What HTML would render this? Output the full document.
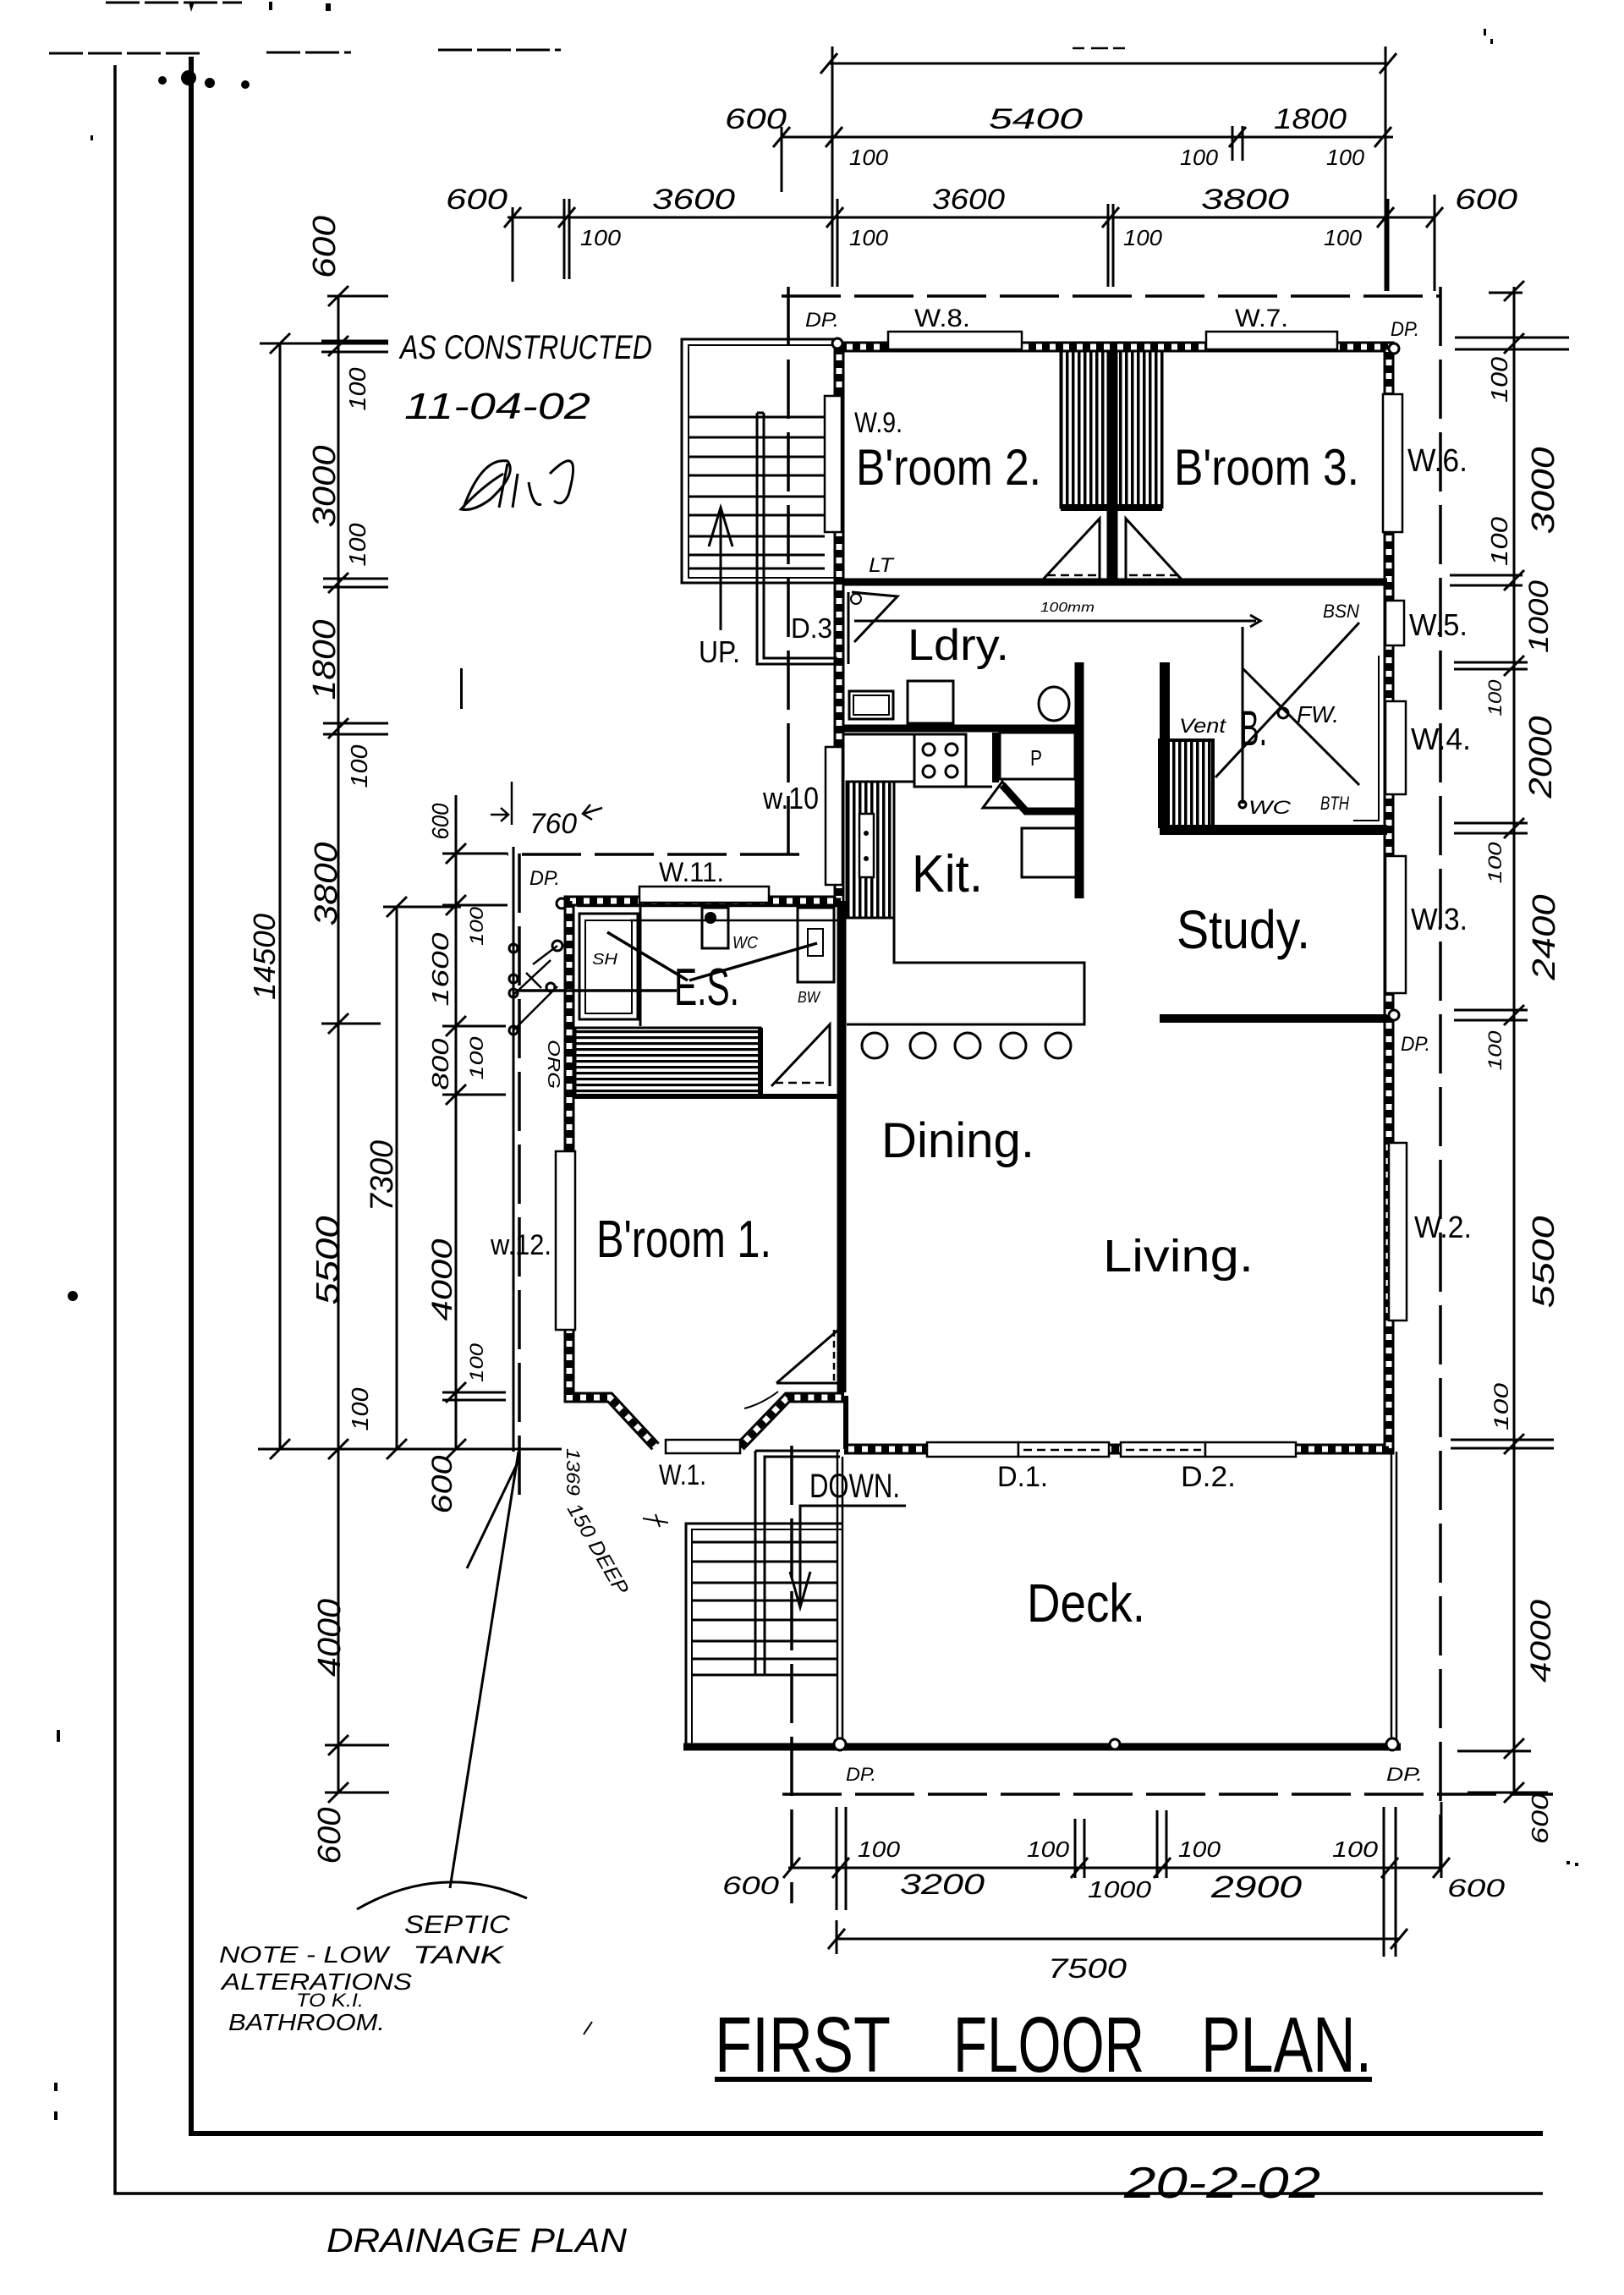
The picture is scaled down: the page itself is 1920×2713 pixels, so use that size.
<!DOCTYPE html>
<html><head><meta charset="utf-8"><style>
html,body{margin:0;padding:0;background:#fff}
svg{display:block}
.h{font-family:"Liberation Sans",sans-serif;font-style:italic;fill:#000}
.r{font-family:"Liberation Sans",sans-serif;fill:#000}
</style></head><body>
<svg xmlns="http://www.w3.org/2000/svg" width="1920" height="2713" viewBox="0 0 1920 2713">
<defs>
<pattern id="vh" width="7" height="10" patternUnits="userSpaceOnUse"><rect width="3.5" height="10" fill="#000"/></pattern>
<pattern id="hh" width="10" height="7" patternUnits="userSpaceOnUse"><rect width="10" height="3.2" fill="#000"/></pattern>
<path id="ew" d="M992 410 H1642 V1713 H998 M992 410 V1065 M994 1065 H673 V1652 H721 L775 1710 M875 1710 L931 1652 H998"/>
</defs>
<rect width="1920" height="2713" fill="#fff"/>

<!-- borders -->
<g stroke="#000" fill="none">
<path d="M136 77 V2593 H1824" stroke-width="3.5"/>
<path d="M226 67 V2522 H1824" stroke-width="6"/>
<path d="M58 63 H241 M315 62 H415 M518 59 H663 M125 3 H286" stroke-width="3" stroke-dasharray="40 6"/>
</g>
<g fill="#000">
<circle cx="192" cy="95" r="5"/><circle cx="223" cy="92" r="9"/><circle cx="248" cy="98" r="6"/><circle cx="290" cy="100" r="5"/>
<path d="M223 2 L230 2 L226 14 Z M318 2 h4 v10 h-4z M385 4 h6 v9 h-6z"/>
<circle cx="86" cy="1532" r="6"/><rect x="67" y="2045" width="4" height="14"/><rect x="64" y="2462" width="4" height="10"/><rect x="64" y="2496" width="4" height="10"/>
<rect x="1754" y="34" width="3" height="8"/><rect x="1762" y="46" width="3" height="6"/><rect x="1852" y="2200" width="4" height="4"/><rect x="1862" y="2202" width="4" height="4"/>
<rect x="107" y="160" width="3" height="6"/><rect x="544" y="790" width="3" height="48"/>
</g>

<!-- dimension lines -->
<g stroke="#000" fill="none" stroke-width="3">
<!-- top -->
<path d="M980 75 H1641 M984 55 V339 M1638 55 V344 M970 87 L990 63 M1631 87 L1651 63"/>
<path d="M1268 57 H1282 M1290 57 H1310 M1316 57 H1330" stroke-width="2.5"/>
<path d="M924 162 H1647 M924 150 V227 M1457 149 V190 M1469 149 V190 M914 174 L934 150 M976 174 L996 150 M1453 174 L1473 150 M1625 174 L1645 150"/>
<path d="M600 257 H1696 M606 245 V333 M667 235 V330 M673 235 V330 M990 235 V339 M1310 241 V339 M1316 241 V339 M1696 230 V344 M1641 235 V344"/>
<path d="M596 269 L616 245 M660 269 L680 245 M977 269 L997 245 M1303 269 L1323 245 M1628 269 L1648 245 M1686 269 L1706 245"/>
<!-- right -->
<path d="M1790 339 V2119"/>
<path d="M1760 346 H1800 M1720 399 H1855 M1720 413 H1855 M1714 680 H1800 M1714 692 H1800 M1719 783 H1806 M1719 791 H1806 M1719 973 H1806 M1719 985 H1806 M1719 1194 H1806 M1719 1206 H1806 M1715 1702 H1837 M1715 1712 H1837 M1723 2070 H1810 M1735 2119 H1830"/>
<path d="M1778 356 L1802 332 M1778 418 L1802 394 M1778 698 L1802 674 M1778 799 L1802 775 M1778 991 L1802 967 M1778 1212 L1802 1188 M1778 1719 L1802 1695 M1778 2079 L1802 2055 M1778 2131 L1802 2107"/>
<!-- left -->
<path d="M331 406 V1713 M307 406 H459 M319 418 L343 394 M319 1725 L343 1701"/>
<path d="M400 350 V2119 M387 350 H459 M380 403 H459 M380 416 H459 M382 684 H459 M382 694 H459 M382 855 H459 M382 868 H459 M380 1210 H450 M305 1713 H664 M384 2063 H460 M384 2119 H460"/>
<path d="M388 362 L412 338 M388 421 L412 397 M388 701 L412 677 M388 873 L412 849 M388 1222 L412 1198 M388 1725 L412 1701 M388 2075 L412 2051 M388 2131 L412 2107"/>
<path d="M469 1072 V1713 M453 1072 H545 M457 1084 L481 1060 M457 1725 L481 1701"/>
<path d="M539 940 V1713 M523 1009 H600 M523 1070 H600 M523 1213 H598 M523 1294 H598 M523 1646 H598 M523 1655 H598"/>
<path d="M527 1021 L551 997 M527 1082 L551 1058 M527 1225 L551 1201 M527 1306 L551 1282 M527 1658 L551 1634 M527 1725 L551 1701"/>
<!-- 760 -->
<path d="M605 924 V975 M580 963 H601 M592 955 L601 963 L592 971 M712 955 L690 962 M698 951 L689 962 L700 969" stroke-width="2.5"/>
<!-- bottom -->
<path d="M932 2208 H1704 M989 2136 V2258 M1000 2136 V2258 M1271 2150 V2220 M1282 2150 V2220 M1368 2140 V2220 M1379 2140 V2220 M1636 2136 V2313 M1650 2136 V2313 M1704 2130 V2220"/>
<path d="M926 2220 L946 2196 M984 2220 L1004 2196 M1266 2220 L1286 2196 M1364 2220 L1384 2196 M1633 2220 L1653 2196 M1694 2220 L1714 2196"/>
<path d="M989 2292 H1654 M989 2270 V2310 M979 2304 L999 2280 M1644 2304 L1664 2280"/>
</g>

<!-- setback dashed lines -->
<g stroke="#000" fill="none" stroke-width="3.5" stroke-dasharray="70 16">
<path d="M924 350 H1702"/><path d="M932 339 V1015"/><path d="M945 1010 H600"/><path d="M614 1009 V1780"/>
<path d="M1703 339 V2212"/><path d="M925 2121 H1836"/><path d="M936 1709 V2250"/>
</g>
<g stroke="#000" fill="none" stroke-width="3">
<path d="M607 1001 V1716 M613 1716 L532 2232 M613 1727 L552 1854"/>
<path d="M422 2257 Q521 2200 623 2244"/>
</g>

<!-- exterior walls -->
<use href="#ew" fill="none" stroke="#000" stroke-width="13"/>
<use href="#ew" fill="none" stroke="#fff" stroke-width="7"/>
<use href="#ew" fill="none" stroke="#000" stroke-width="7" stroke-dasharray="9 7"/>

<g stroke="#000" fill="none">
<!-- deck -->
<path d="M990 1716 V2062 M996 1722 V2062 M1645 1716 V2062 M1651 1716 V2062" stroke-width="2.5"/>
<path d="M808 2065 H1656" stroke-width="9"/>
<path d="M1000 1650 V1713" stroke-width="6"/>
<!-- interior walls -->
<path d="M998 688 H1640" stroke-width="9"/>
<path d="M1315 415 V692" stroke-width="13"/>
<path d="M1276 783 V1062" stroke-width="11"/>
<path d="M998 861 H1279" stroke-width="9"/>
<path d="M1177 866 V925" stroke-width="8"/>
<path d="M1185 928 L1213 959 H1271" stroke-width="9"/>
<path d="M1377 783 V981 H1640" stroke-width="12"/>
<path d="M1371 1204 H1640" stroke-width="10"/>
<path d="M995 1065 V1646" stroke-width="11"/>
<path d="M680 1296 H990" stroke-width="6"/>
</g>

<!-- hatched fills -->
<rect x="1254" y="415" width="120" height="185" fill="url(#vh)" stroke="#000" stroke-width="3"/>
<path d="M1254 600 H1374" stroke="#000" stroke-width="8"/>
<path d="M1315 415 V692" stroke="#000" stroke-width="13"/>
<rect x="1371" y="875" width="63" height="102" fill="url(#vh)" stroke="#000" stroke-width="4"/>
<rect x="1001" y="924" width="56" height="161" fill="url(#vh)" stroke="#000" stroke-width="3"/>
<rect x="1016" y="962" width="17" height="75" fill="#fff" stroke="#000" stroke-width="2.5"/>
<circle cx="1024" cy="985" r="3"/><circle cx="1024" cy="1015" r="3"/>
<rect x="680" y="1215" width="219" height="82" fill="url(#hh)" stroke="#000" stroke-width="3"/>
<path d="M899 1215 V1297" stroke="#000" stroke-width="6"/>

<g stroke="#000" fill="none" stroke-width="3">
<!-- upper stairs -->
<path d="M990 401 H806 V689 H990"/>
<path d="M990 408 H814 V683 H990" stroke-width="2"/>
<path d="M814 493 H975 M814 517 H975 M814 540 H975 M814 562 H975 M814 587 H975 M814 609 H975 M814 634 H975 M814 656 H975 M814 672 H975"/>
<path d="M895 488 V785 H990 M903 488 V778 H990 M895 488 H903"/>
<path d="M852 745 V600 M838 646 L852 600 L866 646"/>
<!-- lower stairs -->
<path d="M996 1801 H811 V2069"/>
<path d="M996 1808 H818 V2062" stroke-width="2"/>
<path d="M818 1823 H990 M818 1846 H990 M818 1871 H990 M818 1892 H990 M818 1915 H990 M818 1940 H990 M818 1961 H990 M818 1980 H990"/>
<path d="M893 1715 V1980 H904 V1722 H993 M893 1715 H993"/>
<path d="M1071 1780 H946 V1900 M934 1858 L946 1900 L958 1858"/>
<!-- bedroom doors -->
<path d="M1233 685 L1300 613 V685 M1331 685 V613 L1397 685"/>
<path d="M1238 680 H1296 M1335 680 H1393" stroke-dasharray="10 6" stroke-width="2.5"/>
<!-- laundry -->
<rect x="1004" y="817" width="52" height="33"/><rect x="1009" y="822" width="42" height="23" stroke-width="2"/>
<rect x="1073" y="805" width="54" height="50"/>
<ellipse cx="1246" cy="832" rx="18" ry="20"/>
<path d="M1007 700 L1061 705 L1010 759 M1003 700 V785"/>
<circle cx="1012" cy="708" r="6" stroke-width="2"/>
<!-- pipes / bathroom -->
<path d="M1010 734 H1485 M1478 727 L1490 734 L1478 741 M1469 741 V950"/>
<circle cx="1469" cy="951" r="4"/>
<path d="M1469 790 L1607 928 M1607 736 L1437 919"/>
<circle cx="1517" cy="843" r="6"/>
<path d="M1630 775 V970 H1600" stroke-width="2"/>
<!-- kitchen -->
<path d="M998 868 H1081 M1010 924 H1081 M1142 930 H1173"/>
<rect x="1081" y="868" width="61" height="62"/>
<circle cx="1098" cy="886" r="7"/><circle cx="1125" cy="886" r="7"/><circle cx="1098" cy="912" r="7"/><circle cx="1125" cy="912" r="7"/>
<rect x="1182" y="866" width="89" height="55"/>
<path d="M1162 955 L1185 924 L1208 955 Z"/>
<rect x="1208" y="979" width="64" height="58"/>
<path d="M1057 1085 V1138 H1282 V1211 H1001"/>
<circle cx="1034" cy="1236" r="15"/><circle cx="1091" cy="1236" r="15"/><circle cx="1144" cy="1236" r="15"/><circle cx="1198" cy="1236" r="15"/><circle cx="1251" cy="1236" r="15"/>
<!-- ensuite -->
<path d="M682 1071 H990 M745 1088 H990" stroke-width="2.5"/>
<rect x="685" y="1080" width="69" height="125"/><rect x="692" y="1088" width="55" height="110" stroke-width="2"/>
<path d="M757 1062 V1213"/>
<rect x="830" y="1073" width="31" height="48"/>
<rect x="943" y="1073" width="43" height="88"/><rect x="955" y="1098" width="18" height="32" stroke-width="2"/>
<path d="M718 1102 L813 1159 M815 1159 L966 1115 M611 1171 H800" stroke-width="3.5"/>
<path d="M912 1284 L981 1211 V1284"/>
<path d="M916 1280 H978" stroke-dasharray="10 6" stroke-width="2.5"/>
<path d="M918 1635 L998 1566 M918 1635 H998"/>
<path d="M986 1572 V1635" stroke-dasharray="8 5" stroke-width="2.5"/>
<!-- drain bits -->
<circle cx="607" cy="1121" r="5"/><circle cx="607" cy="1157" r="5"/><circle cx="607" cy="1174" r="5"/><circle cx="607" cy="1218" r="5"/>
<circle cx="659" cy="1118" r="6"/><circle cx="651" cy="1167" r="5"/><circle cx="664" cy="1068" r="6"/>
<path d="M607 1218 L659 1166 M607 1176 L651 1135 M659 1118 L630 1140 M622 1150 L640 1168" stroke-width="2.5"/>
<path d="M920 1645 Q900 1660 880 1665" stroke-width="2"/>
</g>
<circle cx="840" cy="1085" r="7" fill="#000"/>

<!-- windows & doors -->
<g fill="#fff" stroke="#000" stroke-width="2.5">
<rect x="1050" y="392" width="158" height="21"/><rect x="1426" y="392" width="155" height="21"/>
<rect x="975" y="468" width="20" height="161"/><rect x="1635" y="466" width="23" height="163"/>
<rect x="1638" y="710" width="22" height="53"/><rect x="1638" y="829" width="24" height="110"/>
<rect x="1638" y="1012" width="24" height="162"/><rect x="1642" y="1351" width="21" height="210"/>
<rect x="976" y="883" width="20" height="163"/><rect x="756" y="1048" width="153" height="19"/>
<rect x="657" y="1361" width="23" height="211"/><rect x="787" y="1702" width="88" height="16"/>
<rect x="1096" y="1705" width="108" height="17"/><rect x="1204" y="1705" width="107" height="17"/>
<rect x="1325" y="1705" width="100" height="17"/><rect x="1425" y="1705" width="107" height="17"/>
</g>
<path d="M1210 1714 H1305 M1331 1714 H1420" stroke="#000" stroke-width="2.5" stroke-dasharray="10 6"/>
<g fill="#fff" stroke="#000" stroke-width="3">
<circle cx="990" cy="406" r="6"/><circle cx="1648" cy="412" r="6"/><circle cx="1648" cy="1200" r="6"/>
<circle cx="993" cy="2062" r="7"/><circle cx="1318" cy="2062" r="6"/><circle cx="1646" cy="2062" r="7"/>
</g>

<!-- room labels -->
<g class="r">
<text x="1012" y="573" font-size="60" textLength="219" lengthAdjust="spacingAndGlyphs">B'room 2.</text>
<text x="1388" y="573" font-size="60" textLength="219" lengthAdjust="spacingAndGlyphs">B'room 3.</text>
<text x="1073" y="780" font-size="52" textLength="120" lengthAdjust="spacingAndGlyphs">Ldry.</text>
<text x="1078" y="1054" font-size="62" textLength="84" lengthAdjust="spacingAndGlyphs">Kit.</text>
<text x="1391" y="1121" font-size="64" textLength="158" lengthAdjust="spacingAndGlyphs">Study.</text>
<text x="1042" y="1368" font-size="58" textLength="181" lengthAdjust="spacingAndGlyphs">Dining.</text>
<text x="1304" y="1503" font-size="54" textLength="178" lengthAdjust="spacingAndGlyphs">Living.</text>
<text x="705" y="1486" font-size="62" textLength="207" lengthAdjust="spacingAndGlyphs">B'room 1.</text>
<text x="1466" y="881" font-size="58" textLength="32" lengthAdjust="spacingAndGlyphs">B.</text>
<text x="797" y="1188" font-size="62" textLength="77" lengthAdjust="spacingAndGlyphs">E.S.</text>
<text x="1214" y="1917" font-size="64" textLength="140" lengthAdjust="spacingAndGlyphs">Deck.</text>
<text x="845" y="2449" font-size="93" textLength="208" lengthAdjust="spacingAndGlyphs">FIRST</text>
<text x="1127" y="2449" font-size="93" textLength="226" lengthAdjust="spacingAndGlyphs">FLOOR</text>
<text x="1420" y="2449" font-size="93" textLength="202" lengthAdjust="spacingAndGlyphs">PLAN.</text>
<!-- small labels -->
<text x="1081" y="386" font-size="30" textLength="66" lengthAdjust="spacingAndGlyphs">W.8.</text>
<text x="1460" y="386" font-size="30" textLength="63" lengthAdjust="spacingAndGlyphs">W.7.</text>
<text x="1010" y="511" font-size="34" textLength="57" lengthAdjust="spacingAndGlyphs">W.9.</text>
<text x="935" y="754" font-size="33" textLength="49" lengthAdjust="spacingAndGlyphs">D.3</text>
<text x="826" y="783" font-size="36" textLength="49" lengthAdjust="spacingAndGlyphs">UP.</text>
<text x="1664" y="557" font-size="38" textLength="71" lengthAdjust="spacingAndGlyphs">W.6.</text>
<text x="1666" y="751" font-size="36" textLength="69" lengthAdjust="spacingAndGlyphs">W.5.</text>
<text x="1668" y="886" font-size="36" textLength="71" lengthAdjust="spacingAndGlyphs">W.4.</text>
<text x="1668" y="1099" font-size="36" textLength="67" lengthAdjust="spacingAndGlyphs">W.3.</text>
<text x="1672" y="1463" font-size="36" textLength="68" lengthAdjust="spacingAndGlyphs">W.2.</text>
<text x="779" y="1042" font-size="32" textLength="77" lengthAdjust="spacingAndGlyphs">W.11.</text>
<text x="902" y="956" font-size="36" textLength="66" lengthAdjust="spacingAndGlyphs">w.10</text>
<text x="580" y="1483" font-size="34" textLength="72" lengthAdjust="spacingAndGlyphs">w.12.</text>
<text x="779" y="1755" font-size="34" textLength="56" lengthAdjust="spacingAndGlyphs">W.1.</text>
<text x="1179" y="1757" font-size="34" textLength="60" lengthAdjust="spacingAndGlyphs">D.1.</text>
<text x="1396" y="1757" font-size="34" textLength="65" lengthAdjust="spacingAndGlyphs">D.2.</text>
<text x="957" y="1770" font-size="40" textLength="107" lengthAdjust="spacingAndGlyphs">DOWN.</text>
<text x="1218" y="905" font-size="26" textLength="14" lengthAdjust="spacingAndGlyphs">P</text>
</g>

<!-- handwritten / dimension numbers -->
<g class="h">
<text x="952" y="386" font-size="24" textLength="40" lengthAdjust="spacingAndGlyphs">DP.</text>
<text x="1644" y="397" font-size="24" textLength="34" lengthAdjust="spacingAndGlyphs">DP.</text>
<text x="1656" y="1242" font-size="24" textLength="35" lengthAdjust="spacingAndGlyphs">DP.</text>
<text x="626" y="1046" font-size="24" textLength="36" lengthAdjust="spacingAndGlyphs">DP.</text>
<text x="1000" y="2105" font-size="22" textLength="36" lengthAdjust="spacingAndGlyphs">DP.</text>
<text x="1639" y="2105" font-size="22" textLength="43" lengthAdjust="spacingAndGlyphs">DP.</text>
<text x="1027" y="676" font-size="24" textLength="29" lengthAdjust="spacingAndGlyphs">LT</text>
<text x="1230" y="723" font-size="16" textLength="64" lengthAdjust="spacingAndGlyphs">100mm</text>
<text x="1394" y="866" font-size="24" textLength="55" lengthAdjust="spacingAndGlyphs">Vent</text>
<text x="1564" y="730" font-size="22" textLength="43" lengthAdjust="spacingAndGlyphs">BSN</text>
<text x="1533" y="854" font-size="28" textLength="50" lengthAdjust="spacingAndGlyphs">FW.</text>
<text x="1476" y="962" font-size="22" textLength="50" lengthAdjust="spacingAndGlyphs">WC</text>
<text x="1561" y="957" font-size="22" textLength="34" lengthAdjust="spacingAndGlyphs">BTH</text>
<text x="866" y="1121" font-size="20" textLength="30" lengthAdjust="spacingAndGlyphs">WC</text>
<text x="700" y="1140" font-size="18" textLength="30" lengthAdjust="spacingAndGlyphs">SH</text>
<text x="943" y="1185" font-size="18" textLength="26" lengthAdjust="spacingAndGlyphs">BW</text>
<text transform="translate(648,1258) rotate(90)" text-anchor="middle" font-size="20" textLength="58" lengthAdjust="spacingAndGlyphs">ORG</text>
<text transform="translate(670,1740) rotate(90)" text-anchor="middle" font-size="22" textLength="56" lengthAdjust="spacingAndGlyphs">1369</text>
<text transform="translate(700,1835) rotate(60)" text-anchor="middle" font-size="24" textLength="120" lengthAdjust="spacingAndGlyphs">150 DEEP</text>
<text x="626" y="985" font-size="34" textLength="56" lengthAdjust="spacingAndGlyphs">760</text>
<text x="473" y="424" font-size="40" textLength="298" lengthAdjust="spacingAndGlyphs">AS CONSTRUCTED</text>
<text x="478" y="495" font-size="44" textLength="220" lengthAdjust="spacingAndGlyphs">11-04-02</text>
<text x="478" y="2285" font-size="30" textLength="125" lengthAdjust="spacingAndGlyphs">SEPTIC</text>
<text x="488" y="2321" font-size="30" textLength="107" lengthAdjust="spacingAndGlyphs">TANK</text>
<text x="259" y="2320" font-size="28" textLength="200" lengthAdjust="spacingAndGlyphs">NOTE - LOW</text>
<text x="262" y="2352" font-size="28" textLength="225" lengthAdjust="spacingAndGlyphs">ALTERATIONS</text>
<text x="350" y="2372" font-size="22" textLength="80" lengthAdjust="spacingAndGlyphs">TO K.I.</text>
<text x="270" y="2400" font-size="28" textLength="185" lengthAdjust="spacingAndGlyphs">BATHROOM.</text>
<text x="1329" y="2598" font-size="52" textLength="232" lengthAdjust="spacingAndGlyphs">20-2-02</text>
<text x="386" y="2662" font-size="40" textLength="355" lengthAdjust="spacingAndGlyphs">DRAINAGE PLAN</text>
<!-- top dims -->
<text x="857" y="152" font-size="34" textLength="73" lengthAdjust="spacingAndGlyphs">600</text>
<text x="1169" y="152" font-size="34" textLength="111" lengthAdjust="spacingAndGlyphs">5400</text>
<text x="1506" y="152" font-size="34" textLength="86" lengthAdjust="spacingAndGlyphs">1800</text>
<text x="1004" y="195" font-size="26" textLength="46" lengthAdjust="spacingAndGlyphs">100</text>
<text x="1395" y="195" font-size="26" textLength="45" lengthAdjust="spacingAndGlyphs">100</text>
<text x="1568" y="195" font-size="26" textLength="45" lengthAdjust="spacingAndGlyphs">100</text>
<text x="527" y="247" font-size="34" textLength="73" lengthAdjust="spacingAndGlyphs">600</text>
<text x="771" y="247" font-size="34" textLength="98" lengthAdjust="spacingAndGlyphs">3600</text>
<text x="1102" y="247" font-size="34" textLength="86" lengthAdjust="spacingAndGlyphs">3600</text>
<text x="1420" y="247" font-size="34" textLength="104" lengthAdjust="spacingAndGlyphs">3800</text>
<text x="1720" y="247" font-size="34" textLength="74" lengthAdjust="spacingAndGlyphs">600</text>
<text x="686" y="290" font-size="26" textLength="48" lengthAdjust="spacingAndGlyphs">100</text>
<text x="1004" y="290" font-size="26" textLength="46" lengthAdjust="spacingAndGlyphs">100</text>
<text x="1328" y="290" font-size="26" textLength="46" lengthAdjust="spacingAndGlyphs">100</text>
<text x="1565" y="290" font-size="26" textLength="45" lengthAdjust="spacingAndGlyphs">100</text>
<!-- bottom dims -->
<text x="1014" y="2195" font-size="26" textLength="50" lengthAdjust="spacingAndGlyphs">100</text>
<text x="1214" y="2195" font-size="26" textLength="50" lengthAdjust="spacingAndGlyphs">100</text>
<text x="1393" y="2195" font-size="26" textLength="50" lengthAdjust="spacingAndGlyphs">100</text>
<text x="1575" y="2195" font-size="26" textLength="54" lengthAdjust="spacingAndGlyphs">100</text>
<text x="854" y="2239" font-size="30" textLength="67" lengthAdjust="spacingAndGlyphs">600</text>
<text x="1064" y="2239" font-size="34" textLength="100" lengthAdjust="spacingAndGlyphs">3200</text>
<text x="1286" y="2243" font-size="28" textLength="75" lengthAdjust="spacingAndGlyphs">1000</text>
<text x="1432" y="2243" font-size="36" textLength="107" lengthAdjust="spacingAndGlyphs">2900</text>
<text x="1711" y="2242" font-size="30" textLength="68" lengthAdjust="spacingAndGlyphs">600</text>
<text x="1239" y="2338" font-size="32" textLength="93" lengthAdjust="spacingAndGlyphs">7500</text>
<!-- left vertical dims -->
<text transform="translate(396,292) rotate(-90)" text-anchor="middle" font-size="38" textLength="74" lengthAdjust="spacingAndGlyphs">600</text>
<text transform="translate(396,575) rotate(-90)" text-anchor="middle" font-size="38" textLength="97" lengthAdjust="spacingAndGlyphs">3000</text>
<text transform="translate(396,780) rotate(-90)" text-anchor="middle" font-size="38" textLength="95" lengthAdjust="spacingAndGlyphs">1800</text>
<text transform="translate(398,1045) rotate(-90)" text-anchor="middle" font-size="38" textLength="99" lengthAdjust="spacingAndGlyphs">3800</text>
<text transform="translate(400,1490) rotate(-90)" text-anchor="middle" font-size="38" textLength="105" lengthAdjust="spacingAndGlyphs">5500</text>
<text transform="translate(402,1936) rotate(-90)" text-anchor="middle" font-size="38" textLength="92" lengthAdjust="spacingAndGlyphs">4000</text>
<text transform="translate(402,2170) rotate(-90)" text-anchor="middle" font-size="38" textLength="67" lengthAdjust="spacingAndGlyphs">600</text>
<text transform="translate(432,460) rotate(-90)" text-anchor="middle" font-size="28" textLength="51" lengthAdjust="spacingAndGlyphs">100</text>
<text transform="translate(432,644) rotate(-90)" text-anchor="middle" font-size="28" textLength="51" lengthAdjust="spacingAndGlyphs">100</text>
<text transform="translate(434,906) rotate(-90)" text-anchor="middle" font-size="28" textLength="51" lengthAdjust="spacingAndGlyphs">100</text>
<text transform="translate(435,1666) rotate(-90)" text-anchor="middle" font-size="28" textLength="51" lengthAdjust="spacingAndGlyphs">100</text>
<text transform="translate(325,1131) rotate(-90)" text-anchor="middle" font-size="36" textLength="102" lengthAdjust="spacingAndGlyphs">14500</text>
<text transform="translate(464,1390) rotate(-90)" text-anchor="middle" font-size="38" textLength="84" lengthAdjust="spacingAndGlyphs">7300</text>
<text transform="translate(530,971) rotate(-90)" text-anchor="middle" font-size="28" textLength="43" lengthAdjust="spacingAndGlyphs">600</text>
<text transform="translate(530,1146) rotate(-90)" text-anchor="middle" font-size="28" textLength="87" lengthAdjust="spacingAndGlyphs">1600</text>
<text transform="translate(530,1258) rotate(-90)" text-anchor="middle" font-size="28" textLength="61" lengthAdjust="spacingAndGlyphs">800</text>
<text transform="translate(534,1513) rotate(-90)" text-anchor="middle" font-size="34" textLength="97" lengthAdjust="spacingAndGlyphs">4000</text>
<text transform="translate(571,1095) rotate(-90)" text-anchor="middle" font-size="22" textLength="46" lengthAdjust="spacingAndGlyphs">100</text>
<text transform="translate(571,1251) rotate(-90)" text-anchor="middle" font-size="22" textLength="51" lengthAdjust="spacingAndGlyphs">100</text>
<text transform="translate(571,1611) rotate(-90)" text-anchor="middle" font-size="22" textLength="46" lengthAdjust="spacingAndGlyphs">100</text>
<text transform="translate(534,1755) rotate(-90)" text-anchor="middle" font-size="34" textLength="69" lengthAdjust="spacingAndGlyphs">600</text>
<!-- right vertical dims -->
<text transform="translate(1782,449) rotate(-90)" text-anchor="middle" font-size="28" textLength="54" lengthAdjust="spacingAndGlyphs">100</text>
<text transform="translate(1837,580) rotate(-90)" text-anchor="middle" font-size="38" textLength="103" lengthAdjust="spacingAndGlyphs">3000</text>
<text transform="translate(1782,640) rotate(-90)" text-anchor="middle" font-size="28" textLength="58" lengthAdjust="spacingAndGlyphs">100</text>
<text transform="translate(1830,729) rotate(-90)" text-anchor="middle" font-size="32" textLength="86" lengthAdjust="spacingAndGlyphs">1000</text>
<text transform="translate(1775,825) rotate(-90)" text-anchor="middle" font-size="22" textLength="43" lengthAdjust="spacingAndGlyphs">100</text>
<text transform="translate(1834,895) rotate(-90)" text-anchor="middle" font-size="38" textLength="97" lengthAdjust="spacingAndGlyphs">2000</text>
<text transform="translate(1775,1020) rotate(-90)" text-anchor="middle" font-size="22" textLength="49" lengthAdjust="spacingAndGlyphs">100</text>
<text transform="translate(1838,1108) rotate(-90)" text-anchor="middle" font-size="38" textLength="101" lengthAdjust="spacingAndGlyphs">2400</text>
<text transform="translate(1775,1242) rotate(-90)" text-anchor="middle" font-size="22" textLength="47" lengthAdjust="spacingAndGlyphs">100</text>
<text transform="translate(1837,1492) rotate(-90)" text-anchor="middle" font-size="36" textLength="109" lengthAdjust="spacingAndGlyphs">5500</text>
<text transform="translate(1783,1663) rotate(-90)" text-anchor="middle" font-size="24" textLength="56" lengthAdjust="spacingAndGlyphs">100</text>
<text transform="translate(1833,1940) rotate(-90)" text-anchor="middle" font-size="34" textLength="98" lengthAdjust="spacingAndGlyphs">4000</text>
<text transform="translate(1830,2150) rotate(-90)" text-anchor="middle" font-size="28" textLength="60" lengthAdjust="spacingAndGlyphs">600</text>
</g>

<!-- title underline, signature, arrows -->
<path d="M845 2458 H1622" stroke="#000" stroke-width="6"/>
<g stroke="#000" fill="none" stroke-width="3">
<path d="M548 600 Q570 540 600 545 Q612 560 580 590 Q560 605 545 602 Q570 575 595 560 M600 548 L590 600 M612 560 L606 600 M625 570 Q630 600 640 596 M650 560 Q690 520 672 585 Q665 600 655 592"/>
<path d="M760 1795 L790 1800 M775 1790 L780 1805" stroke-width="2"/>
<path d="M700 2390 L690 2405" stroke-width="2"/>
</g>
</svg>
</body></html>
